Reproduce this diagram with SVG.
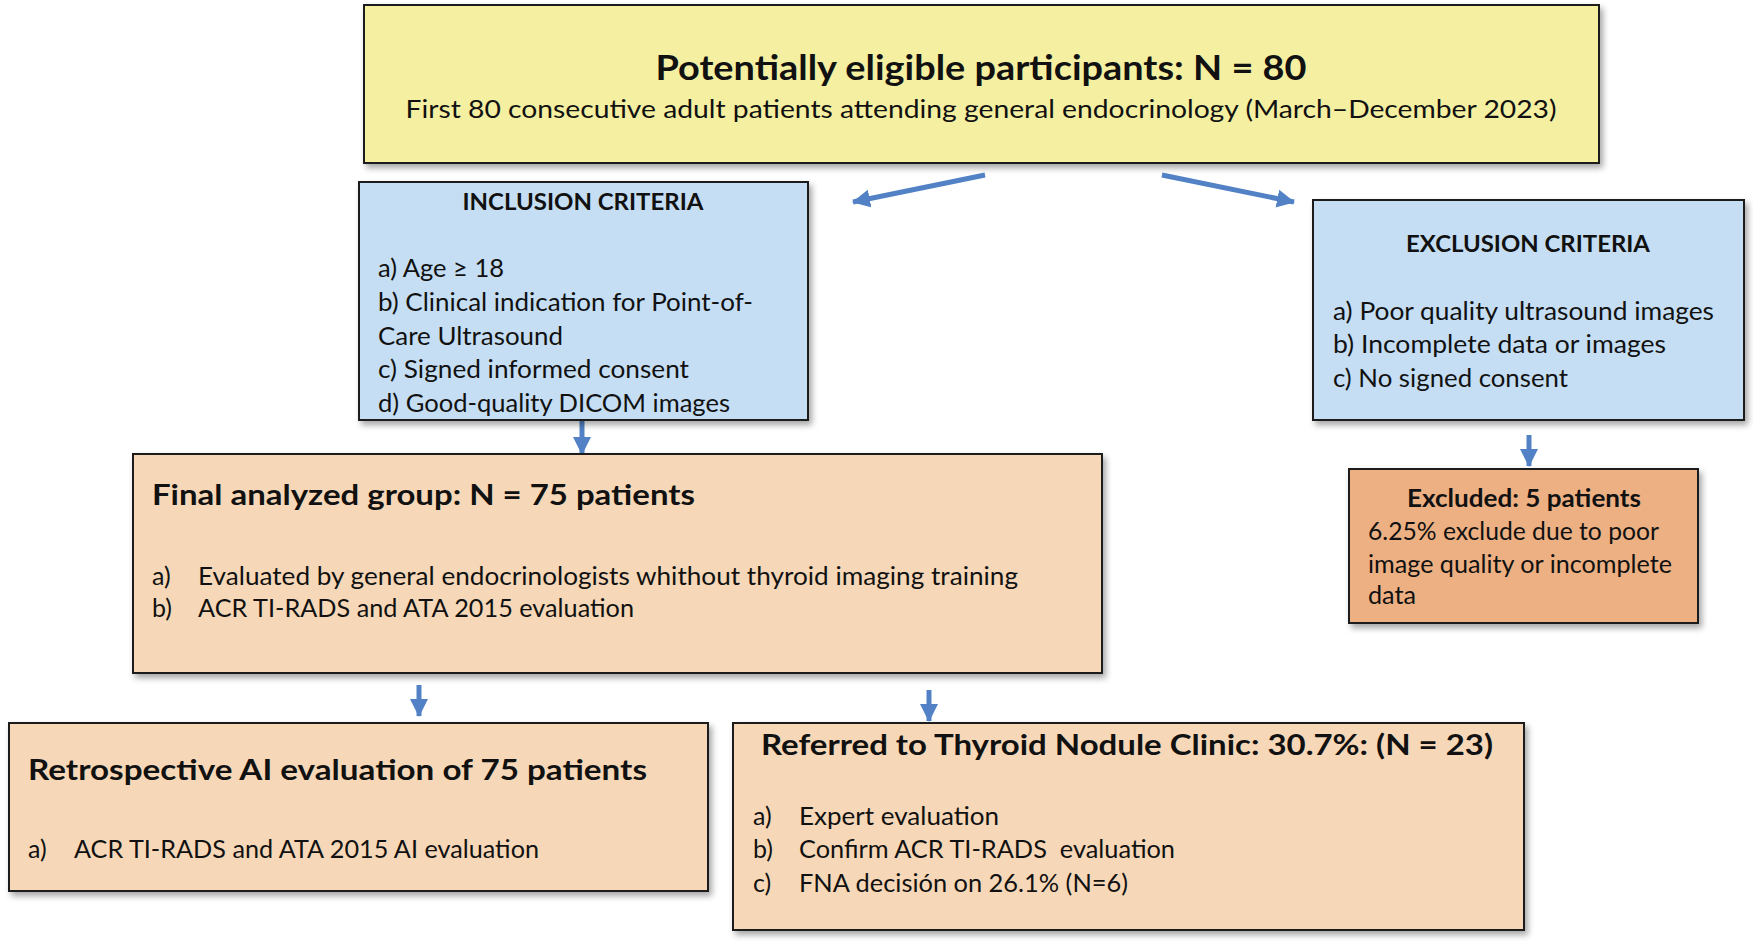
<svg xmlns="http://www.w3.org/2000/svg" width="1753" height="944" viewBox="0 0 1753 944">
<style>
.box{stroke:#1c1c1c;stroke-width:2;filter:url(#sh)}
.yel{fill:#F4EFA1}
.blu{fill:#C5DEF3}
.tan{fill:#F6D8B8}
.org{fill:#ECB083}
text{font-family:Lato,"Open Sans","Liberation Sans",sans-serif;fill:#111}
.b{font-weight:bold}
.t{font-size:25px}
.pre{white-space:pre}
.arr{stroke:#5282C5;stroke-width:5;fill:none;marker-end:url(#ah)}
</style>
<defs>
<filter id="sh" x="-5%" y="-5%" width="112%" height="120%">
<feDropShadow dx="3" dy="4" stdDeviation="3" flood-color="#000" flood-opacity="0.35"/>
</filter>
<marker id="ah" markerUnits="userSpaceOnUse" markerWidth="22" markerHeight="20" refX="17" refY="10" orient="auto">
<path d="M0,1 L18,10 L0,19 Z" fill="#5282C5"/>
</marker>
</defs>
<rect width="1753" height="944" fill="#fff"/>

<g id="connectors">
<line class="arr" x1="985" y1="175" x2="853" y2="202"/>
<line class="arr" x1="1162" y1="175" x2="1294" y2="202"/>
<line class="arr" x1="582" y1="420" x2="582" y2="454"/>
<line class="arr" x1="1529" y1="435" x2="1529" y2="466"/>
<line class="arr" x1="419" y1="685" x2="419" y2="716"/>
<line class="arr" x1="929" y1="690" x2="929" y2="721"/>
</g>

<g id="eligible">
<rect class="box yel" x="364" y="5" width="1235" height="158"/>
<text class="b" x="981" y="80" font-size="34" text-anchor="middle" textLength="651" lengthAdjust="spacingAndGlyphs">Potentially eligible participants: N = 80</text>
<text x="981" y="118" font-size="25.5" text-anchor="middle" textLength="1151" lengthAdjust="spacingAndGlyphs">First 80 consecutive adult patients attending general endocrinology (March–December 2023)</text>
</g>

<g id="inclusion">
<rect class="box blu" x="359" y="182" width="449" height="238"/>
<text class="b" x="583" y="210" font-size="23" text-anchor="middle" textLength="241" lengthAdjust="spacingAndGlyphs">INCLUSION CRITERIA</text>
<text class="t" x="378" y="277" textLength="126" lengthAdjust="spacingAndGlyphs">a) Age ≥ 18</text>
<text class="t" x="378" y="311" textLength="375" lengthAdjust="spacingAndGlyphs">b) Clinical indication for Point-of-</text>
<text class="t" x="378" y="345" textLength="185" lengthAdjust="spacingAndGlyphs">Care Ultrasound</text>
<text class="t" x="378" y="378" textLength="311" lengthAdjust="spacingAndGlyphs">c) Signed informed consent</text>
<text class="t" x="378" y="412" textLength="352" lengthAdjust="spacingAndGlyphs">d) Good-quality DICOM images</text>
</g>

<g id="exclusion">
<rect class="box blu" x="1313" y="200" width="431" height="220"/>
<text class="b" x="1528" y="252" font-size="23" text-anchor="middle" textLength="244" lengthAdjust="spacingAndGlyphs">EXCLUSION CRITERIA</text>
<text class="t" x="1333" y="320" textLength="381" lengthAdjust="spacingAndGlyphs">a) Poor quality ultrasound images</text>
<text class="t" x="1333" y="353" textLength="333" lengthAdjust="spacingAndGlyphs">b) Incomplete data or images</text>
<text class="t" x="1333" y="387" textLength="235" lengthAdjust="spacingAndGlyphs">c) No signed consent</text>
</g>

<g id="excluded">
<rect class="box org" x="1349" y="469" width="349" height="154"/>
<text class="b" x="1524" y="507" font-size="24" text-anchor="middle" textLength="234" lengthAdjust="spacingAndGlyphs">Excluded: 5 patients</text>
<text class="t" x="1368" y="540" textLength="291" lengthAdjust="spacingAndGlyphs">6.25% exclude due to poor</text>
<text class="t" x="1368" y="573" textLength="304" lengthAdjust="spacingAndGlyphs">image quality or incomplete</text>
<text class="t" x="1368" y="604" textLength="48" lengthAdjust="spacingAndGlyphs">data</text>
</g>

<g id="final">
<rect class="box tan" x="133" y="454" width="969" height="219"/>
<text class="b" x="152" y="505" font-size="29" textLength="543" lengthAdjust="spacingAndGlyphs">Final analyzed group: N = 75 patients</text>
<text class="t" x="152" y="585">a)</text>
<text class="t" x="198" y="585" textLength="820" lengthAdjust="spacingAndGlyphs">Evaluated by general endocrinologists whithout thyroid imaging training</text>
<text class="t" x="152" y="617">b)</text>
<text class="t" x="198" y="617" textLength="436" lengthAdjust="spacingAndGlyphs">ACR TI-RADS and ATA 2015 evaluation</text>
</g>

<g id="retrospective">
<rect class="box tan" x="9" y="723" width="699" height="168"/>
<text class="b" x="28" y="780" font-size="29" textLength="619" lengthAdjust="spacingAndGlyphs">Retrospective AI evaluation of 75 patients</text>
<text class="t" x="28" y="858">a)</text>
<text class="t" x="74" y="858" textLength="465" lengthAdjust="spacingAndGlyphs">ACR TI-RADS and ATA 2015 AI evaluation</text>
</g>

<g id="referred">
<rect class="box tan" x="733" y="723" width="791" height="207"/>
<text class="b" x="761" y="755" font-size="29" textLength="732" lengthAdjust="spacingAndGlyphs">Referred to Thyroid Nodule Clinic: 30.7%: (N = 23)</text>
<text class="t" x="753" y="825">a)</text>
<text class="t" x="799" y="825" textLength="200" lengthAdjust="spacingAndGlyphs">Expert evaluation</text>
<text class="t" x="753" y="858">b)</text>
<text class="t pre" x="799" y="858" textLength="376" lengthAdjust="spacingAndGlyphs">Confirm ACR TI-RADS  evaluation</text>
<text class="t" x="753" y="892">c)</text>
<text class="t" x="799" y="892" textLength="329" lengthAdjust="spacingAndGlyphs">FNA decisión on 26.1% (N=6)</text>
</g>
</svg>
